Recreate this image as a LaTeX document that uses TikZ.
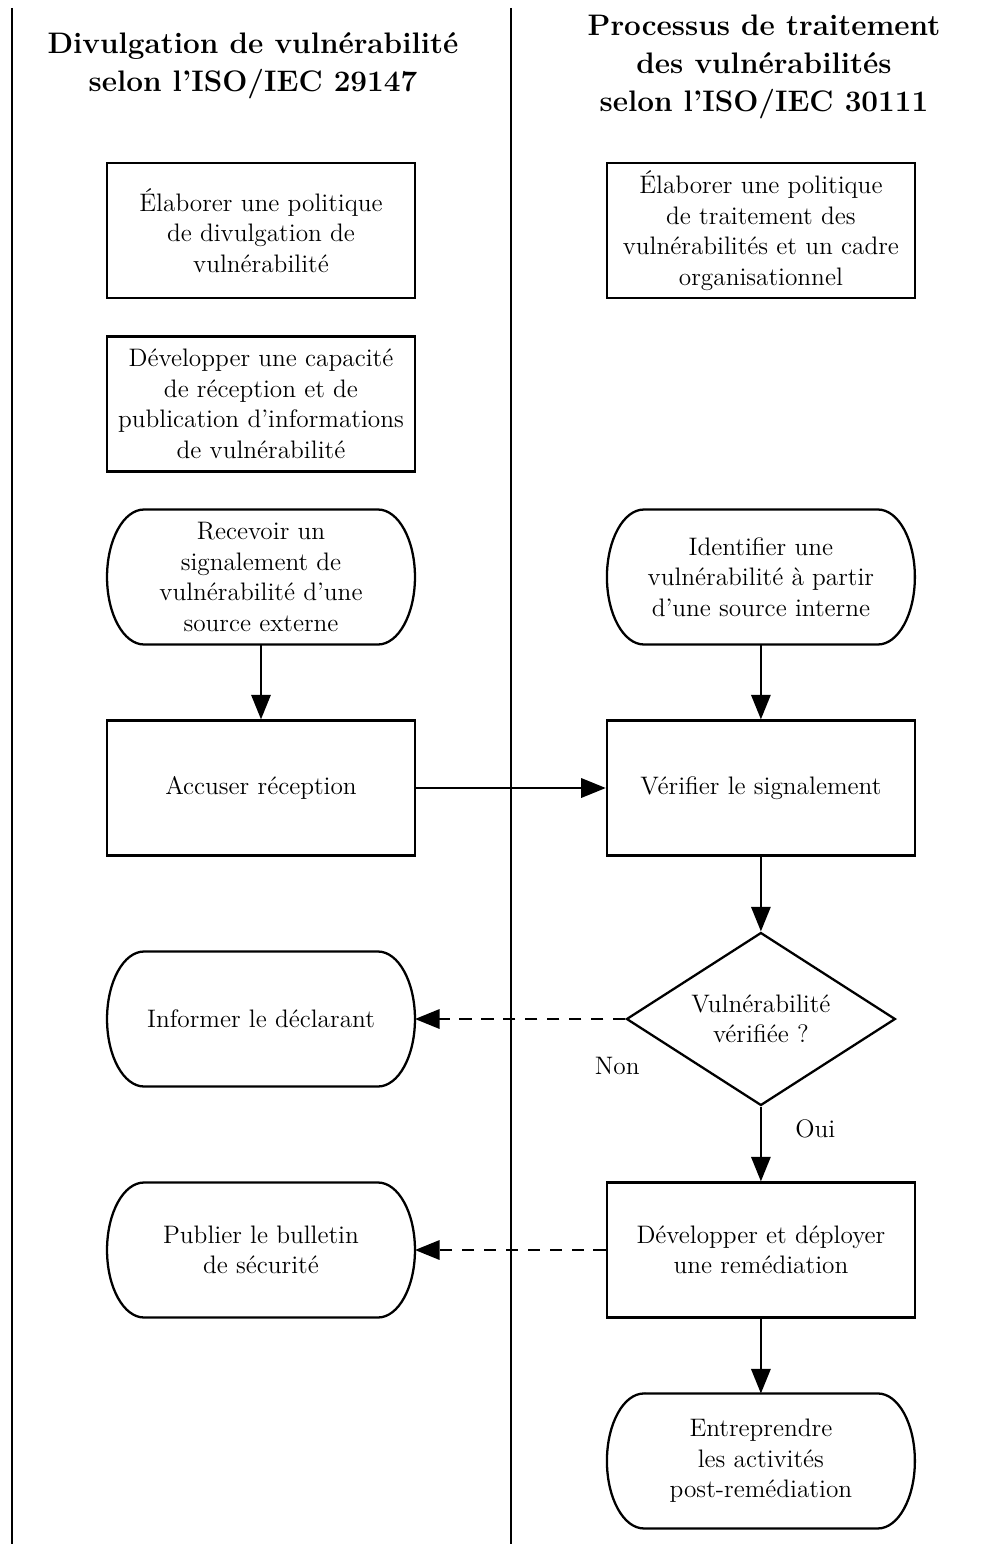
\documentclass[tikz,border=0pt]{standalone}
\usetikzlibrary{arrows.meta,shapes.geometric}

\newcommand{\boxfont}{\fontsize{14.4}{17.4}\selectfont}
\newcommand{\headfont}{\fontsize{16.9}{21.6}\selectfont\bfseries}

\tikzset{
  box/.style={draw, line width=1.3pt, minimum width=6.16cm, minimum height=2.7cm,
    inner sep=2pt, align=center, font=\boxfont},
  roundbox/.style={box, draw=none, outer sep=0pt},
  outline/.style={line width=1.3pt},
  decision/.style={draw, diamond, line width=1.3pt, minimum width=5.38cm,
    minimum height=3.46cm, aspect=1.55, inner sep=0pt, align=center, font=\boxfont},
  lane/.style={line width=1.1pt},
  heading/.style={align=center, font=\headfont},
  flow/.style={->, line width=1.3pt},
  reply/.style={flow, dash pattern=on 7pt off 5.5pt},
  tag/.style={font=\boxfont}
}

\begin{document}
\begin{tikzpicture}[x=0.02cm,y=-0.02cm,>={Triangle[length=14pt,width=11pt]},node distance=10cm]
  \useasboundingbox (0,0) rectangle (1002,1544);

  % swim lanes
  \draw[lane] (12,8) -- (12,1544);
  \draw[lane] (511,8) -- (511,1544);

  \node[heading] (head29147) at (253,66) {Divulgation de vulnérabilité\\selon l’ISO/IEC 29147};
  \node[heading] (head30111) at (764,67) {Processus de traitement\\des vulnérabilités\\selon l’ISO/IEC 30111};

  % left lane
  \node[box]      (pol)  at (261,230.5) {Élaborer une politique\\de divulgation de\\vulnérabilité};
  \node[box]      (capa) at (261,404)   {Développer une capacité\\de réception et de\\publication d’informations\\de vulnérabilité};
  \node[roundbox] (recv) at (261,577)   {Recevoir un\\signalement de\\vulnérabilité d’une\\source externe};
  \node[box]      (accu) at (261,788)   {Accuser réception};
  \node[roundbox] (info) at (261,1019)  {Informer le déclarant};
  \node[roundbox] (publ) at (261,1250)  {Publier le bulletin\\de sécurité};

  % right lane
  \node[box]      (cadre) [right of=pol]  {Élaborer une politique\\de traitement des\\vulnérabilités et un cadre\\organisationnel};
  \node[roundbox] (iden)  [right of=recv] {Identifier une\\vulnérabilité à partir\\d’une source interne};
  \node[box]      (veri)  [right of=accu] {Vérifier le signalement};
  \node[decision] (test)  [right of=info] {Vulnérabilité\\vérifiée ?};
  \node[box]      (remed) [right of=publ] {Développer et déployer\\une remédiation};
  \node[roundbox] (post)  [below of=remed, node distance=4.22cm] {Entreprendre\\les activités\\post-remédiation};

  % terminals with half-ellipse ends
  \foreach \n in {recv,info,publ,iden,post}
    \draw[outline] ([xshift=0.74cm]\n.north west) -- ([xshift=-0.74cm]\n.north east)
      arc[start angle=90, end angle=-90, x radius=0.74cm, y radius=1.35cm]
      -- ([xshift=0.74cm]\n.south west)
      arc[start angle=270, end angle=90, x radius=0.74cm, y radius=1.35cm] -- cycle;

  \draw[flow]  (recv) -- (accu);
  \draw[flow]  (accu) -- (veri);
  \draw[flow]  (iden) -- (veri);
  \draw[flow]  (veri) -- (test);
  \draw[reply] (test) -- (info);
  \draw[flow]  (test) -- node[tag, pos=0.3, right=0.55cm] {Oui} (remed);
  \draw[reply] (remed) -- (publ);
  \draw[flow]  (remed) -- (post);

  \node[tag] (non) at ([shift={(-8,47)}]test.west) {Non};
\end{tikzpicture}
\end{document}
